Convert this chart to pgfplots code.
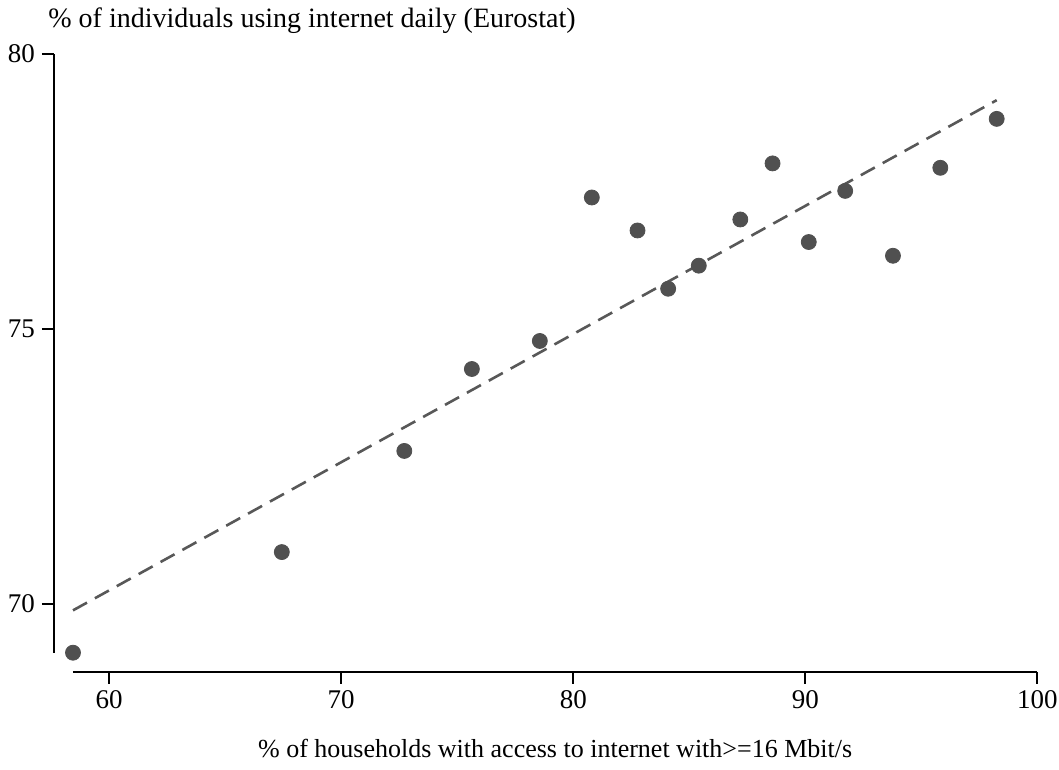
\documentclass[border=0pt]{standalone}
\usepackage{pgfplots}
\pgfplotsset{compat=1.18}
\usepackage{fontspec}
\setmainfont{Liberation Serif}

\definecolor{dotgray}{RGB}{80,80,80}
\definecolor{fitgray}{RGB}{88,88,88}

\begin{document}
\begin{tikzpicture}
\begin{axis}[
  scale only axis,
  width=482.15pt, height=299.35pt,
  xmin=58.44, xmax=100,
  ymin=69.11, ymax=80,
  xtick={60,70,80,90,100},
  ytick={70,75,80},
  axis lines=left,
  axis line style={-, line width=0.9pt},
  % Stata-like detached axes
  x axis line style={yshift=-9.5pt},
  y axis line style={xshift=-9.5pt},
  xtick style={yshift=-9.5pt, line width=0.9pt, black},
  ytick style={xshift=-9.5pt, line width=0.9pt, black},
  xticklabel style={yshift=-9.5pt},
  yticklabel style={xshift=-9.5pt},
  tick align=outside,
  major tick length=6pt,
  /pgf/number format/assume math mode=true,
  tick label style={font=\fontsize{13.5}{15}\selectfont},
  clip=false,
]
\addplot[only marks, mark=*, mark size=3.75pt, color=dotgray, fill=dotgray]
  coordinates {
  (58.44,69.11) (67.44,70.94) (72.72,72.78) (75.63,74.27)
  (78.56,74.78) (80.80,77.39) (82.77,76.79) (84.09,75.73)
  (85.41,76.15) (87.20,76.99) (88.59,78.01) (90.15,76.58)
  (91.72,77.51) (93.78,76.33) (95.82,77.93) (98.25,78.82)
  };
% linear fit
\addplot[color=fitgray, line width=1.3pt, dash pattern=on 8pt off 4.5pt]
  coordinates {(58.44,69.88) (98.25,79.16)};
\coordinate (ll) at (rel axis cs:0,0);
\node[anchor=base west, inner sep=0pt, font=\fontsize{14}{16}\selectfont]
  at ([xshift=-12.5pt, yshift=13pt]rel axis cs:0,1)
  {\% of individuals using internet daily (Eurostat)};
\node[anchor=base, font=\fontsize{13}{15}\selectfont]
  at ([yshift=-52.6pt]rel axis cs:0.5,0)
  {\% of households with access to internet with>=16 Mbit/s};
\end{axis}
\pgfresetboundingbox
\path (ll) ++(-36.5pt,-58.65pt) rectangle ++(529.5pt,385pt);
\end{tikzpicture}
\end{document}
